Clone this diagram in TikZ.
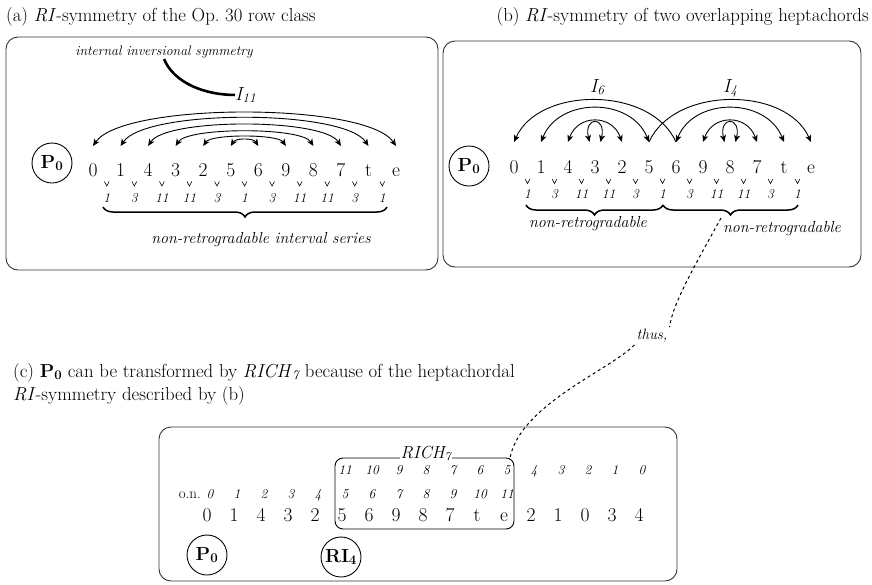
\documentclass[tikz,border=0pt]{standalone}
\usetikzlibrary{arrows.meta,decorations.pathreplacing,calc}
\newcommand{\symarc}[6][darc]{\draw[#1] ([yshift=#6]#2.base) .. controls +(#5,-#4) and +(-#5,-#4) .. ([yshift=#6]#3.base);}
\newcommand{\selfloop}[3]{\draw[darc] ([xshift=-5.5pt,yshift=#3]#1.base) .. controls +(-6,-#2) and +(6,-#2) .. ([xshift=5.5pt,yshift=#3]#1.base);}
\begin{document}
\begin{tikzpicture}[x=1pt,y=-1pt,
  panel/.style={draw=black!80, line width=0.9pt, rounded corners=12pt},
  num/.style={font=\fontsize{19.5}{22}\selectfont, inner sep=0pt, anchor=base},
  ivl/.style={font=\fontsize{13.5}{15}\selectfont\itshape, inner sep=0pt, anchor=base},
  lbl/.style={font=\fontsize{16}{18}\selectfont\itshape, inner sep=0pt, anchor=base},
  ttl/.style={font=\fontsize{18.8}{22}\selectfont, inner sep=0pt},
  pcirc/.style={draw, circle, line width=0.9pt, minimum size=40pt, inner sep=0pt, font=\fontsize{19}{21}\selectfont},
  tip/.tip={Stealth[length=7pt,width=6pt,inset=1.8pt]},
  darc/.style={line width=0.9pt, tip-tip},
  larc/.style={line width=0.9pt, tip-},
  rarc/.style={line width=0.9pt, -tip},
  vmark/.style={line width=0.6pt},
  curly/.style={decorate, decoration={brace, mirror, amplitude=10pt}, line width=1.5pt},
  thickc/.style={line width=2.6pt},
  dashc/.style={line width=1pt, dash pattern=on 3pt off 3pt}
]
\useasboundingbox (0,0) rectangle (872,584);

% ---------- titles ----------
\node[ttl, anchor=base west] (ta) at (6,21) {(a) \textit{RI}-symmetry of the Op.~30 row class};
\node[ttl, anchor=base east] (tb) at (869,21) {(b) \textit{RI}-symmetry of two overlapping heptachords};
\node[ttl, anchor=base west] (tc1) at (13,377) {(c) \textbf{P}\textsubscript{\bfseries 0} can be transformed by \textit{RICH}\textsubscript{\itshape 7} because of the heptachordal};
\node[ttl, anchor=base west] (tc2) at (13,400) {\textit{RI}-symmetry described by (b)};

% ---------- panels ----------
\draw[panel] (6,37) rectangle (438,270);
\draw[panel] (443,41) rectangle (861,267);
\draw[panel] (159,427) rectangle (677,581);

% ---------- (a) ----------
\node[pcirc] (pa) at (52,163) {\textbf{P}\textsubscript{\bfseries 0}};
\foreach \v [count=\i from 0] in {0,1,4,3,2,5,6,9,8,7,t,e}
  \node[num] (a\i) at ({93+27.55*\i},176.5) {\v};
\foreach \v [count=\i from 0] in {1,3,11,11,3,1,3,11,11,3,1} {
  \node[ivl] (ai\i) at ({93+27.55*(\i+0.5)},202.5) {\v};
  \draw[vmark] ({93+27.55*(\i+0.5)-2.4},181.5) -- ++(2.4,4.5) -- ++(2.4,-4.5);
}
\symarc{a0}{a11}{44}{30}{30.5pt}
\symarc{a1}{a10}{37}{25}{30.5pt}
\symarc{a2}{a9}{28}{18}{30.5pt}
\symarc{a3}{a8}{19}{12}{30.5pt}
\symarc{a4}{a7}{12}{8}{30.5pt}
\symarc{a5}{a6}{8}{5}{30.5pt}
\draw[curly] (103,207) -- (387,207);
\node[lbl] (nra) at (261,243) {non-retrogradable interval series};
\node[lbl, font=\fontsize{13.8}{15}\selectfont\itshape, inner sep=1pt] (ins) at (164,55) {internal inversional symmetry};
\node[num, anchor=base west, font=\fontsize{19}{21}\selectfont\itshape] (iel) at (235,100) {I\textsubscript{11}};
\draw[thickc] (ins.south) .. controls +(10,24) and +(-30,0) .. (iel.west);

% ---------- (b) ----------
\node[pcirc] (pb) at (469,166) {\textbf{P}\textsubscript{\bfseries 0}};
\foreach \v [count=\i from 0] in {0,1,4,3,2,5,6,9,8,7,t,e}
  \node[num] (b\i) at ({514+27*\i},173.5) {\v};
\foreach \v [count=\i from 0] in {1,3,11,11,3,1,3,11,11,3,1} {
  \node[ivl] (bi\i) at ({514+27*(\i+0.5)},198) {\v};
  \draw[vmark] ({514+27*(\i+0.5)-2.4},179) -- ++(2.4,4.5) -- ++(2.4,-4.5);
}
\symarc[larc]{b0}{b6}{56}{25}{31.5pt}
\symarc{b1}{b5}{45}{18}{31.5pt}
\symarc{b2}{b4}{28}{10}{31.5pt}
\selfloop{b3}{26}{31.5pt}
\symarc[rarc]{b5}{b11}{56}{25}{31.5pt}
\symarc{b6}{b10}{45}{18}{31.5pt}
\symarc{b7}{b9}{28}{10}{31.5pt}
\selfloop{b8}{26}{31.5pt}
\node[num, anchor=base west, font=\fontsize{19}{21}\selectfont\itshape] (isx) at (590,92) {I\textsubscript{6}};
\node[num, anchor=base west, font=\fontsize{19}{21}\selectfont\itshape] (ifo) at (723,92) {I\textsubscript{4}};
\draw[curly] (526,205) -- (663,205);
\draw[curly] (663,205) -- (798,205);
\node[lbl] (nrb1) at (588,227) {non-retrogradable};
\node[lbl] (nrb2) at (782,232) {non-retrogradable};
\coordinate (dstart) at (721,218);

% ---------- (c) ----------
\foreach \v [count=\i from 0] in {0,1,4,3,2,5,6,9,8,7,t,e,2,1,0,3,4}
  \node[num] (c\i) at ({207+27*\i},521) {\v};
\foreach \v [count=\i from 0] in {0,1,2,3,4,5,6,7,8,9,10,11}
  \node[ivl] (on\i) at ({210+27*\i},498) {\v};
\foreach \v [count=\i from 5] in {11,10,9,8,7,6,5,4,3,2,1,0}
  \node[ivl] (rv\i) at ({210+27*\i},474) {\v};
\node[num, anchor=base east, font=\fontsize{15}{17}\selectfont] (onl) at (201,498) {o.n.};
\draw[line width=0.9pt, rounded corners=8pt] (335,458) rectangle (514,529);
\coordinate (richc) at (510,458);
\node[num, fill=white, inner sep=1pt, font=\fontsize{17.5}{19}\selectfont\itshape] (rich) at (426,458) {RICH\textsubscript{7}};
\node[pcirc] (pc) at (207,555) {\textbf{P}\textsubscript{\bfseries 0}};
\node[pcirc] (ric) at (341,557) {\textbf{RI}\textsubscript{\bfseries 4}};

% ---------- dashed link ----------
\node[lbl, fill=white, inner sep=2pt, anchor=center, font=\fontsize{15}{17}\selectfont\itshape] (thus) at (652,336) {thus,};
\draw[dashc] (dstart) .. controls (695,265) and (672,305) .. (thus.north east);
\draw[dashc] (thus.south west) .. controls (610,370) and (520,405) .. (richc);
\end{tikzpicture}
\end{document}
